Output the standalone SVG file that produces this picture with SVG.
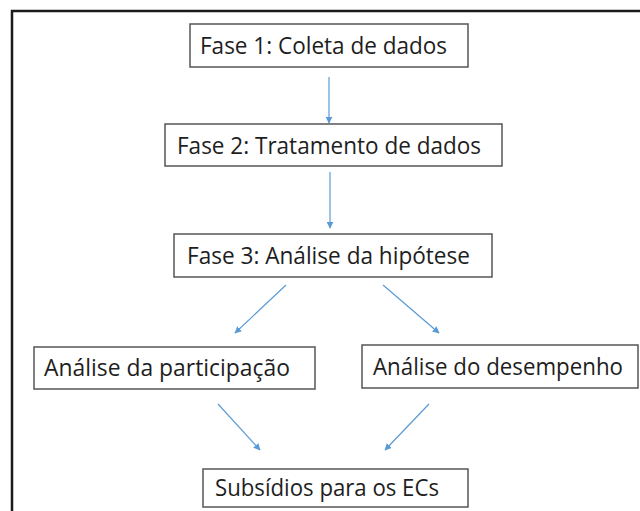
<svg xmlns="http://www.w3.org/2000/svg" width="640" height="511" viewBox="0 0 640 511">
  <defs>
    <marker id="ah" viewBox="0 0 10 10" refX="9" refY="5" markerWidth="7" markerHeight="7" markerUnits="userSpaceOnUse" orient="auto">
      <path d="M0,0 L10,5 L0,10 z" fill="#5B9BD5"/>
    </marker>
    <style>
      .box { fill: #ffffff; stroke: #555555; stroke-width: 1.5; }
      .lbl { font-family: "Open Sans", "Noto Sans", "Liberation Sans", sans-serif; font-size: 24px; fill: #1e1e1e; }
      .conn { stroke: #5B9BD5; stroke-width: 1.2; fill: none; marker-end: url(#ah); }
    </style>
  </defs>
  <rect width="640" height="511" fill="#ffffff"/>
  <rect x="12" y="11" width="660" height="540" fill="none" stroke="#1a1a1a" stroke-width="2.5"/>

  <g id="connectors">
    <line class="conn" x1="329" y1="77" x2="329" y2="123"/>
    <line class="conn" x1="330" y1="172" x2="330" y2="228"/>
    <line class="conn" x1="286" y1="285" x2="235" y2="333"/>
    <line class="conn" x1="383" y1="285" x2="439" y2="333"/>
    <line class="conn" x1="218" y1="404" x2="260" y2="450"/>
    <line class="conn" x1="429" y1="404" x2="385" y2="450"/>
  </g>

  <g id="fase1">
    <rect class="box" x="190" y="24" width="278" height="43"/>
    <text class="lbl" x="200" y="54" textLength="247" lengthAdjust="spacingAndGlyphs">Fase 1: Coleta de dados</text>
  </g>
  <g id="fase2">
    <rect class="box" x="165" y="124" width="337" height="42"/>
    <text class="lbl" x="177" y="154" textLength="304" lengthAdjust="spacingAndGlyphs">Fase 2: Tratamento de dados</text>
  </g>
  <g id="fase3">
    <rect class="box" x="174" y="234" width="318" height="43"/>
    <text class="lbl" x="187" y="264" textLength="283" lengthAdjust="spacingAndGlyphs">Fase 3: Análise da hipótese</text>
  </g>
  <g id="participacao">
    <rect class="box" x="34" y="347" width="281" height="42"/>
    <text class="lbl" x="44" y="376" textLength="246" lengthAdjust="spacingAndGlyphs">Análise da participação</text>
  </g>
  <g id="desempenho">
    <rect class="box" x="362" y="345" width="276" height="43"/>
    <text class="lbl" x="373" y="375" textLength="250" lengthAdjust="spacingAndGlyphs">Análise do desempenho</text>
  </g>
  <g id="subsidios">
    <rect class="box" x="203" y="469" width="265" height="38"/>
    <text class="lbl" x="215" y="496" textLength="224" lengthAdjust="spacingAndGlyphs">Subsídios para os ECs</text>
  </g>
</svg>
